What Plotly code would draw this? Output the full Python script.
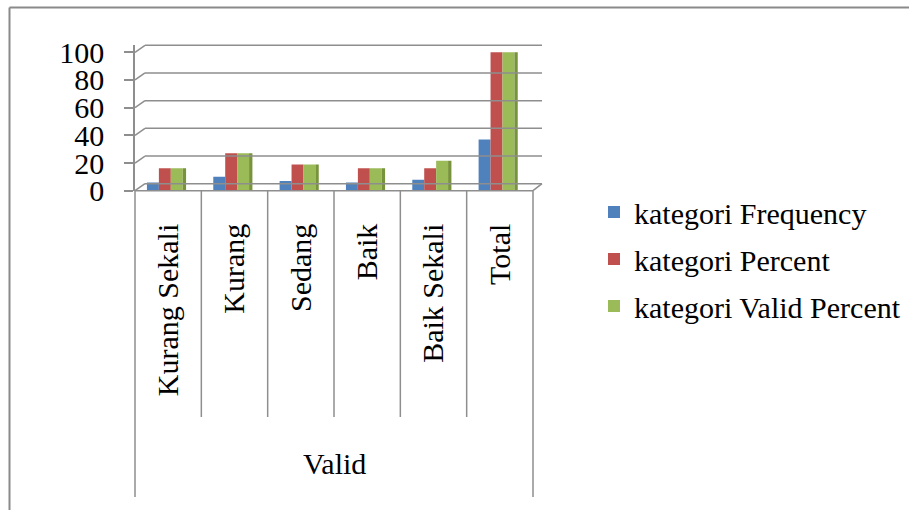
import plotly.graph_objects as go

categories = ["Kurang Sekali", "Kurang", "Sedang", "Baik", "Baik Sekali", "Total"]
group_label = "Valid"
frequency = [6, 10, 7, 6, 8, 37]
percent = [16.2, 27.0, 18.9, 16.2, 16.2, 100]
valid_percent = [16.2, 27.0, 18.9, 16.2, 21.6, 100]
series_names = ["kategori Frequency", "kategori Percent", "kategori Valid Percent"]
y_ticks = [0, 20, 40, 60, 80, 100]

W, H = 909, 510
FONT = "Liberation Serif"
GRID = "#8e8e8e"

# pixel layout of the plot area
px_left, px_right, px_depth = 135, 542, 9
py_zero, px_per_unit = 190.7, 1.384
y_max = 105
py_top = py_zero - y_max * px_per_unit
x_lo = -0.5
x_hi = len(categories) - 0.5 + px_depth / ((px_right - px_depth - px_left) / len(categories))

xd = [px_left / W, px_right / W]
yd = [1 - py_zero / H, 1 - py_top / H]

def xp(px):
    return px / W

def yp(py):
    return 1 - py / H

fig = go.Figure()
colors = ["#4F81BD", "#C0504D", "#9BBB59"]
offsets = [-0.32, -0.14, 0.04]
bw = 0.18
for i, (name, vals, col, off) in enumerate(zip(series_names, [frequency, percent, valid_percent], colors, offsets)):
    fig.add_trace(go.Bar(x=list(range(len(categories))), y=vals, name=name,
                         legendgroup="g%d" % i,
                         marker=dict(color=col, line=dict(width=0)),
                         offset=off, width=bw))
# side face of the last series (3D look)
fig.add_trace(go.Bar(x=list(range(len(categories))), y=valid_percent, showlegend=False,
                     legendgroup="g2",
                     marker=dict(color="#77933C", line=dict(width=0)),
                     offset=offsets[-1] + bw, width=0.05, hoverinfo="skip"))

shapes = []
line = dict(color=GRID, width=1.5)
dxp, dyp = 10 / W, 7 / H
cat_w = (px_right - px_depth - px_left) / len(categories)
right_front = px_left + cat_w * len(categories)
for v in y_ticks:
    py = py_zero - v * px_per_unit
    shapes.append(dict(type="line", xref="paper", yref="paper",
                       x0=xp(px_left), y0=yp(py), x1=xp(px_left) + dxp, y1=yp(py) + dyp, line=line))
    shapes.append(dict(type="line", xref="paper", yref="paper",
                       x0=xp(px_left) + dxp, y0=yp(py) + dyp, x1=xp(px_right), y1=yp(py) + dyp, line=line))
shapes.append(dict(type="line", xref="paper", yref="paper",
                   x0=xp(px_left), y0=yp(py_zero), x1=xp(right_front), y1=yp(py_zero), line=line))
shapes.append(dict(type="line", xref="paper", yref="paper",
                   x0=xp(right_front), y0=yp(py_zero), x1=xp(px_right), y1=yp(py_zero) + dyp, line=line))
for k in range(len(categories) + 1):
    px = px_left + k * cat_w
    bottom = 497 if k in (0, len(categories)) else 417
    shapes.append(dict(type="line", xref="paper", yref="paper",
                       x0=xp(px), y0=yp(py_zero), x1=xp(px), y1=yp(bottom), line=line))
border = dict(color="#8a8a8a", width=2)
shapes.append(dict(type="line", xref="paper", yref="paper", x0=xp(9.5), y0=yp(7.5), x1=xp(9.5), y1=0, line=border))
shapes.append(dict(type="line", xref="paper", yref="paper", x0=xp(9.5), y0=yp(7.5), x1=1, y1=yp(7.5), line=border))

fig.update_layout(
    width=W, height=H, margin=dict(l=0, r=0, t=0, b=0, pad=0, autoexpand=False),
    paper_bgcolor="white", plot_bgcolor="rgba(0,0,0,0)",
    barmode="overlay", shapes=shapes,
    font=dict(family=FONT, size=30, color="black"),
    xaxis=dict(domain=xd, range=[x_lo, x_hi], tickmode="array",
               tickvals=list(range(len(categories))), ticktext=categories,
               tickangle=-90, showgrid=False, showline=False, zeroline=False,
               ticks="", ticklabelstandoff=26, tickfont=dict(family=FONT, size=30)),
    yaxis=dict(domain=yd, range=[0, y_max], tickvals=y_ticks, showgrid=False,
               zeroline=False, showline=True, linecolor=GRID, linewidth=1.5,
               ticks="outside", ticklen=9, tickcolor=GRID, tickwidth=1.5,
               ticklabelstandoff=14, tickfont=dict(family=FONT, size=30)),
    legend=dict(x=xp(594), y=yp(186), xanchor="left", yanchor="top",
                font=dict(family=FONT, size=30), bgcolor="rgba(0,0,0,0)",
                tracegroupgap=5),
    annotations=[dict(text=group_label, xref="paper", yref="paper",
                      x=xp((px_left + right_front) / 2), y=yp(482),
                      showarrow=False, font=dict(family=FONT, size=30))],
)

fig.write_html("out.html")
